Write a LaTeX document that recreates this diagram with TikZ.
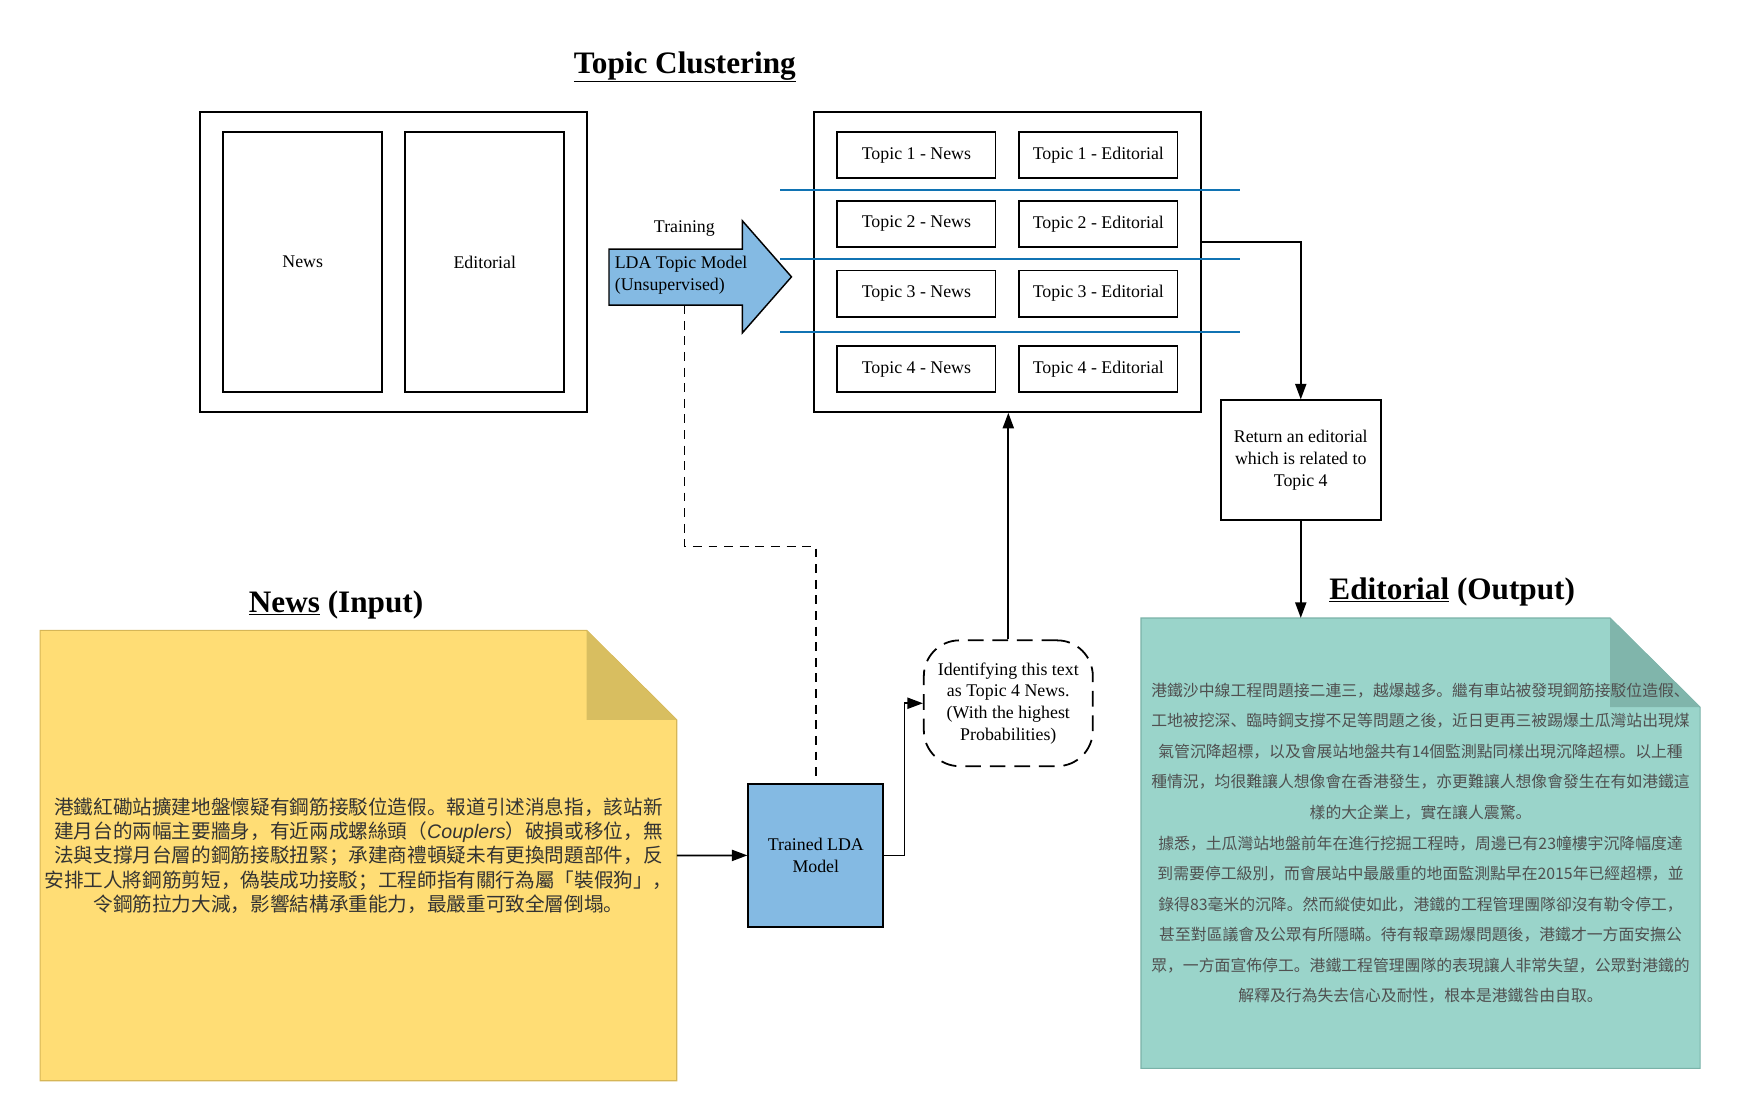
\documentclass[tikz,border=0pt]{standalone}
\usepackage{fontspec}
\setmainfont{Liberation Serif}
\newfontfamily\cjk{Noto Sans CJK SC}
\newfontfamily\latinsans{Liberation Sans}
\usetikzlibrary{arrows.meta}

\definecolor{ldablue}{RGB}{132,186,227}
\definecolor{sepblue}{RGB}{16,115,179}
\definecolor{notey}{RGB}{255,221,117}
\definecolor{noteyfold}{RGB}{216,190,96}
\definecolor{noteyline}{RGB}{214,182,86}
\definecolor{notet}{RGB}{154,212,202}
\definecolor{notetfold}{RGB}{128,181,171}
\definecolor{notetline}{RGB}{122,178,168}
\definecolor{inktext}{RGB}{51,51,51}
\definecolor{inkgrey}{RGB}{80,80,80}

\begin{document}
\begin{tikzpicture}
  [x=1pt,y=-1pt,align=center,
   font=\fontsize{16}{19.5}\selectfont,
   plainbox/.style={draw,line width=1.6pt,inner sep=0pt},
   topic/.style={plainbox,minimum width=142pt,minimum height=41.5pt},
   flow/.style={line width=1.6pt,-{Triangle[length=14pt,width=10pt]}},
   divider/.style={sepblue,line width=1.4pt},
   heading/.style={font=\fontsize{28}{32}\selectfont\bfseries},
   notetext/.style={inner sep=0pt,minimum width=#1}]

  \useasboundingbox (0,0) rectangle (1560,1004);

  \node[heading] (clustttl) at (614,60) {\underline{Topic Clustering}};

  \node[plainbox,minimum width=347.6pt,minimum height=269pt] (corpus) at (352.8,234.8) {};
  \node[plainbox,minimum width=142.7pt,minimum height=233.3pt] (news) at (271.4,234.8) {News};
  \node[plainbox,minimum width=142.7pt,minimum height=233.3pt,right of=news,node distance=163.2pt] (edit) {Editorial};

  \draw[line width=1.3pt,fill=ldablue] (546,223.3) -- (665.6,223.3) -- (665.6,198) -- (709.6,248.2)
    -- (665.6,298.4) -- (665.6,273.6) -- (546,273.6) -- cycle;
  \node[anchor=west,align=left,inner sep=0pt] (lda) at (551,247) {LDA Topic Model\\(Unsupervised)};
  \node (train) at (613.6,204.6) {Training};
  \coordinate (ldafoot) at (613.6,273.6);
  \coordinate (bend) at (613.6,490);

  \node[plainbox,minimum width=346.6pt,minimum height=268.6pt] (clusters) at (903.3,235) {};
  \foreach \n/\y in {1/139,2/200.7,3/263.3,4/331} {
    \node[topic] (tn\n) at (821.6,\y) {Topic \n\ - News};
    \node[topic,right of=tn\n,node distance=163.1pt] (te\n) {Topic \n\ - Editorial};
  }
  \foreach \y in {170.2,232.4,297.6}
    \draw[divider] (699.7,\y) -- (1112,\y);
  \coordinate (clout) at (1076.6,217.1);

  \node[plainbox,fill=ldablue,minimum width=121pt,minimum height=127.7pt] (trained) at (731.4,766.9) {Trained LDA\\Model};

  \node[draw,line width=1.6pt,dash pattern=on 14pt off 8pt,rounded corners=32pt,
    minimum width=151.5pt,minimum height=112.8pt,inner sep=0pt] (ident) at (904,630.5)
    {Identifying this text\\as Topic 4 News.\\(With the highest\\Probabilities)};

  \node[plainbox,minimum width=143.6pt,minimum height=107.7pt] (ret) at (1166.2,412.7)
    {Return an editorial\\which is related to\\Topic 4};

  \node[heading] (newsttl) at (301.3,542.7) {\underline{News} (Input)};
  \node[heading] (editttl) at (1302,531) {\underline{Editorial} (Output)};

  \draw[noteyline,line width=1pt,fill=notey] (36,565.2) -- (526,565.2) -- (606.7,645.3)
    -- (606.7,968.9) -- (36,968.9) -- cycle;
  \fill[noteyfold] (526,565.2) -- (526,645.3) -- (606.7,645.3) -- cycle;
  \node[notetext=570.7pt,minimum height=403.7pt,text=inktext,
    font=\cjk\fontsize{17.6}{21.8}\selectfont] (newsnote) at (321.4,767)
    {港鐵紅磡站擴建地盤懷疑有鋼筋接駁位造假。報道引述消息指，該站新\\
     建月台的兩幅主要牆身，有近兩成螺絲頭（{\latinsans\itshape Couplers}）破損或移位，無\\
     法與支撐月台層的鋼筋接駁扭緊；承建商禮頓疑未有更換問題部件，反\\
     安排工人將鋼筋剪短，偽裝成功接駁；工程師指有關行為屬「裝假狗」，\\
     令鋼筋拉力大減，影響結構承重能力，最嚴重可致全層倒塌。};

  \draw[notetline,line width=1pt,fill=notet] (1023,554.1) -- (1443.6,554.1) -- (1524.2,634)
    -- (1524.2,957.8) -- (1023,957.8) -- cycle;
  \fill[notetfold] (1443.6,554.1) -- (1443.6,634) -- (1524.2,634) -- cycle;
  \node[notetext=501.2pt,minimum height=403.7pt,text=inkgrey,
    font=\cjk\fontsize{14.2}{27.4}\selectfont] (editnote) at (1273.6,756)
    {港鐵沙中線工程問題接二連三，越爆越多。繼有車站被發現鋼筋接駁位造假、\\
     工地被挖深、臨時鋼支撐不足等問題之後，近日更再三被踢爆土瓜灣站出現煤\\
     氣管沉降超標，以及會展站地盤共有14個監測點同樣出現沉降超標。以上種\\
     種情況，均很難讓人想像會在香港發生，亦更難讓人想像會發生在有如港鐵這\\
     樣的大企業上，實在讓人震驚。\\
     據悉，土瓜灣站地盤前年在進行挖掘工程時，周邊已有23幢樓宇沉降幅度達\\
     到需要停工級別，而會展站中最嚴重的地面監測點早在2015年已經超標，並\\
     錄得83毫米的沉降。然而縱使如此，港鐵的工程管理團隊卻沒有勒令停工，\\
     甚至對區議會及公眾有所隱瞞。待有報章踢爆問題後，港鐵才一方面安撫公\\
     眾，一方面宣佈停工。港鐵工程管理團隊的表現讓人非常失望，公眾對港鐵的\\
     解釋及行為失去信心及耐性，根本是港鐵咎由自取。};

  \draw[line width=1.6pt,dash pattern=on 8pt off 6pt] (ldafoot) -- (bend) -| (trained.north);
  \draw[flow] (newsnote.east) -- (trained.west);
  \draw[flow] (trained.east) -- ++(18.2,0) |- (ident.west);
  \draw[flow] (ident.north) -- (ident.north |- clusters.south);
  \draw[flow] (clout) -| (ret.north);
  \draw[flow] (ret.south) -- (ret.south |- editnote.north);
\end{tikzpicture}
\end{document}
